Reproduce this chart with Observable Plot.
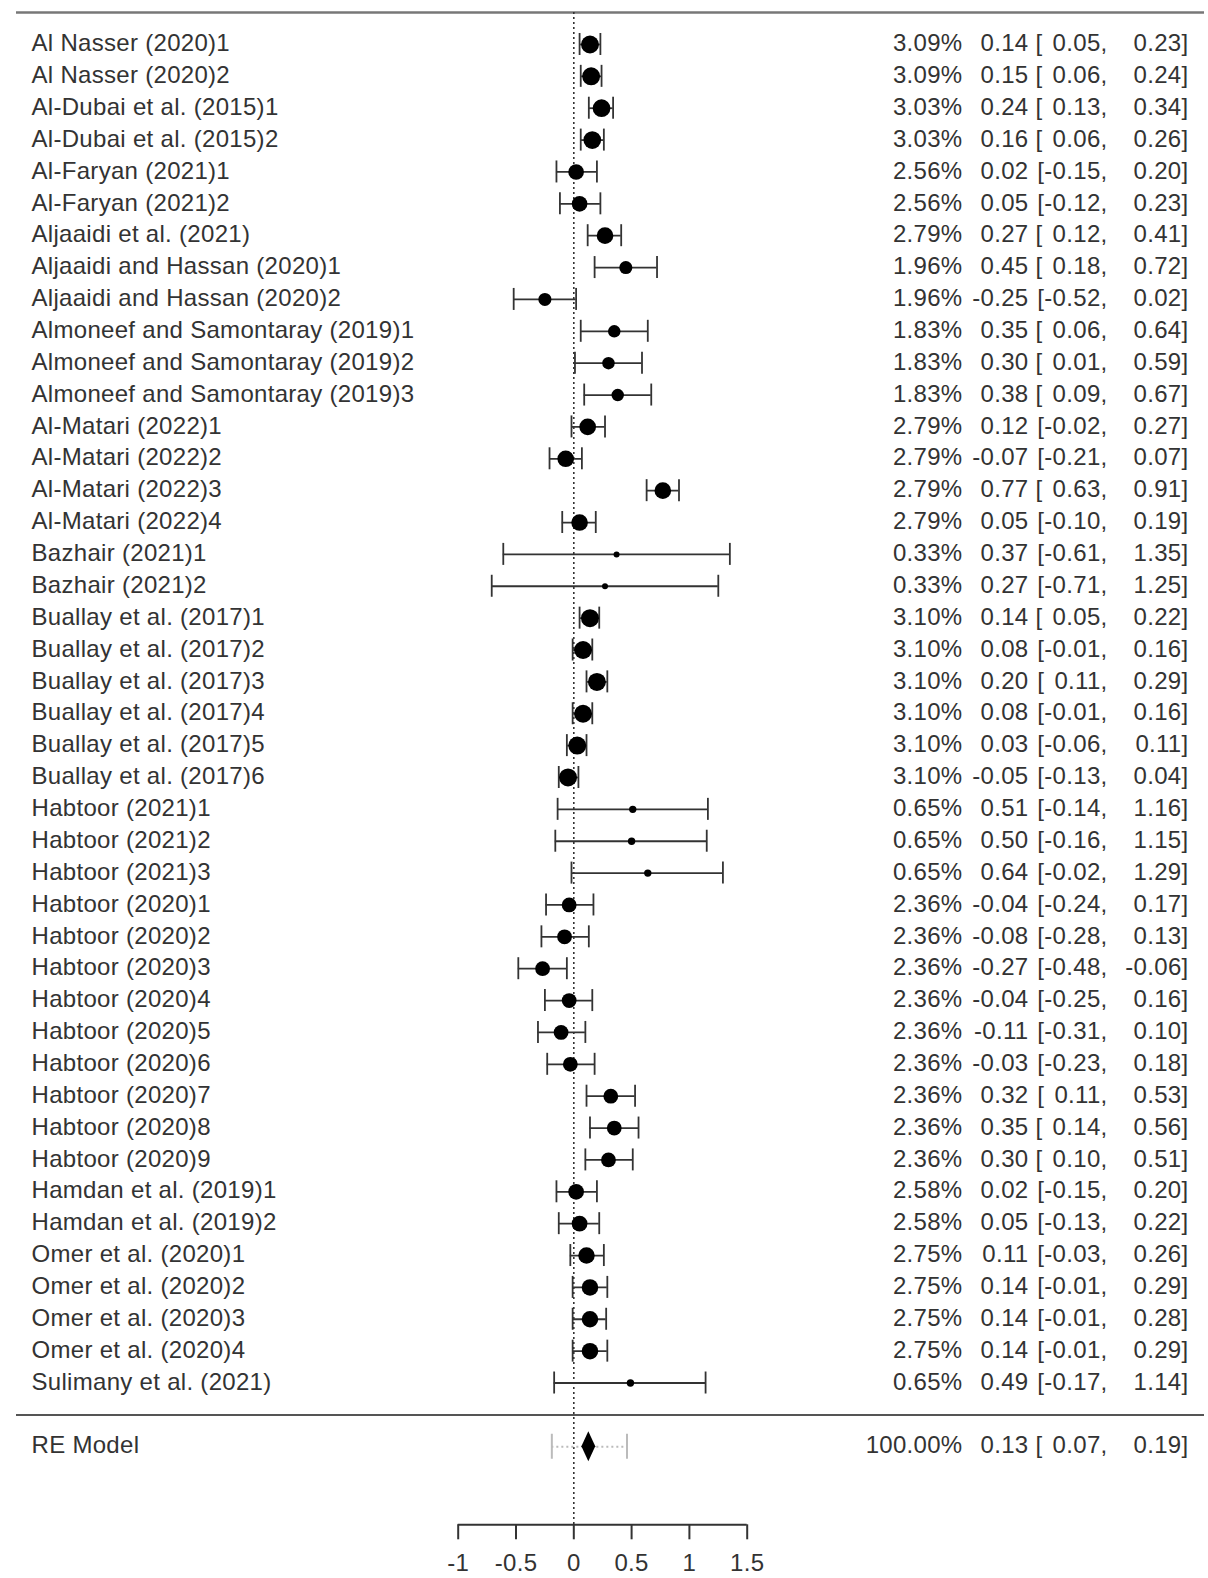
<!DOCTYPE html>
<html><head><meta charset="utf-8">
<script src="https://cdn.jsdelivr.net/npm/d3@7"></script>
<script src="https://cdn.jsdelivr.net/npm/@observablehq/plot@0.6"></script>
<style>html,body{margin:0;padding:0;background:#fff;}</style>
</head><body><div id="chart"></div>
<script>
const studies = [
  "Al Nasser (2020)1","Al Nasser (2020)2","Al-Dubai et al. (2015)1","Al-Dubai et al. (2015)2",
  "Al-Faryan (2021)1","Al-Faryan (2021)2","Aljaaidi et al. (2021)","Aljaaidi and Hassan (2020)1",
  "Aljaaidi and Hassan (2020)2","Almoneef and Samontaray (2019)1","Almoneef and Samontaray (2019)2",
  "Almoneef and Samontaray (2019)3","Al-Matari (2022)1","Al-Matari (2022)2","Al-Matari (2022)3",
  "Al-Matari (2022)4","Bazhair (2021)1","Bazhair (2021)2","Buallay et al. (2017)1","Buallay et al. (2017)2",
  "Buallay et al. (2017)3","Buallay et al. (2017)4","Buallay et al. (2017)5","Buallay et al. (2017)6",
  "Habtoor (2021)1","Habtoor (2021)2","Habtoor (2021)3","Habtoor (2020)1","Habtoor (2020)2",
  "Habtoor (2020)3","Habtoor (2020)4","Habtoor (2020)5","Habtoor (2020)6","Habtoor (2020)7",
  "Habtoor (2020)8","Habtoor (2020)9","Hamdan et al. (2019)1","Hamdan et al. (2019)2",
  "Omer et al. (2020)1","Omer et al. (2020)2","Omer et al. (2020)3","Omer et al. (2020)4",
  "Sulimany et al. (2021)"
];
const weights = [3.09,3.09,3.03,3.03,2.56,2.56,2.79,1.96,1.96,1.83,1.83,1.83,2.79,2.79,2.79,2.79,
  0.33,0.33,3.10,3.10,3.10,3.10,3.10,3.10,0.65,0.65,0.65,2.36,2.36,2.36,2.36,2.36,2.36,2.36,2.36,2.36,
  2.58,2.58,2.75,2.75,2.75,2.75,0.65];
const estimates = [0.14,0.15,0.24,0.16,0.02,0.05,0.27,0.45,-0.25,0.35,0.30,0.38,0.12,-0.07,0.77,0.05,
  0.37,0.27,0.14,0.08,0.20,0.08,0.03,-0.05,0.51,0.50,0.64,-0.04,-0.08,-0.27,-0.04,-0.11,-0.03,0.32,
  0.35,0.30,0.02,0.05,0.11,0.14,0.14,0.14,0.49];
const lowers = [0.05,0.06,0.13,0.06,-0.15,-0.12,0.12,0.18,-0.52,0.06,0.01,0.09,-0.02,-0.21,0.63,-0.10,
  -0.61,-0.71,0.05,-0.01,0.11,-0.01,-0.06,-0.13,-0.14,-0.16,-0.02,-0.24,-0.28,-0.48,-0.25,-0.31,-0.23,
  0.11,0.14,0.10,-0.15,-0.13,-0.03,-0.01,-0.01,-0.01,-0.17];
const uppers = [0.23,0.24,0.34,0.26,0.20,0.23,0.41,0.72,0.02,0.64,0.59,0.67,0.27,0.07,0.91,0.19,
  1.35,1.25,0.22,0.16,0.29,0.16,0.11,0.04,1.16,1.15,1.29,0.17,0.13,-0.06,0.16,0.10,0.18,0.53,0.56,0.51,
  0.20,0.22,0.26,0.29,0.28,0.29,1.14];

const reLabel = "RE Model";
const reWeight = 100;
const reEst = 0.13, reLo = 0.07, reHi = 0.19;
const piLo = -0.19, piHi = 0.46;
const xTicks = [-1, -0.5, 0, 0.5, 1, 1.5];

const k = studies.length;
const rows = studies.map((s, i) => ({study: s, w: weights[i], est: estimates[i], lo: lowers[i], hi: uppers[i], row: k - i}));
const re = {study: reLabel, w: reWeight, est: reEst, lo: reLo, hi: reHi, row: -1, piLo, piHi};
const allRows = [...rows, re];
const diamondHalf = 0.47;
const diamond = [
  {x: re.lo, y1: re.row, y2: re.row},
  {x: re.est, y1: re.row - diamondHalf, y2: re.row + diamondHalf},
  {x: re.hi, y1: re.row, y2: re.row}
];
const fmt = v => v.toFixed(2);

const W = 1208, H = 1578;
const yTop = 44.38, yBottom = -3.449;
const ink = "#333";
const txt = {y: "row", fill: ink, dy: -1};

const plot = Plot.plot({
  width: W, height: H,
  marginLeft: 0, marginRight: 0, marginTop: 0, marginBottom: 53.7,
  style: {fontFamily: "'Liberation Sans', Arial, sans-serif", fontSize: "24px", letterSpacing: "0.3px", background: "#fff", color: ink},
  x: {domain: [-1, 1.5], range: [457.7, 746.7]},
  y: {domain: [yBottom, yTop], axis: null},
  r: {type: "linear", domain: [d3.min(weights), d3.max(weights)], range: [3, 9]},
  marks: [
    Plot.ruleY([k + 1], {insetLeft: 16, insetRight: 4, stroke: "#777", strokeWidth: 2.5}),
    Plot.ruleY([0], {insetLeft: 16, insetRight: 4, stroke: "#555", strokeWidth: 2}),
    Plot.ruleX([0], {y1: k + 1, y2: yBottom, stroke: "#333", strokeWidth: 1.6, strokeDasharray: "2,3"}),
    Plot.ruleY([yBottom], {x1: d3.min(xTicks), x2: d3.max(xTicks), stroke: "#333", strokeWidth: 2}),
    Plot.axisX({ticks: xTicks, tickFormat: d => String(d), tickSize: 15, tickPadding: 14, fontSize: 24, color: "#333", strokeWidth: 2, label: null}),
    // prediction interval
    Plot.ruleY([re], {y: "row", x1: "piLo", x2: "piHi", stroke: "#bbb", strokeWidth: 2, strokeDasharray: "2,3"}),
    Plot.ruleX([re], {x: "piLo", y1: "row", y2: "row", insetTop: -12.5, insetBottom: -12.5, stroke: "#bbb", strokeWidth: 2}),
    Plot.ruleX([re], {x: "piHi", y1: "row", y2: "row", insetTop: -12.5, insetBottom: -12.5, stroke: "#bbb", strokeWidth: 2}),
    // study CIs
    Plot.ruleY(rows, {y: "row", x1: "lo", x2: "hi", stroke: "#333", strokeWidth: 1.8}),
    Plot.ruleX(rows, {x: "lo", y1: "row", y2: "row", insetTop: -11, insetBottom: -11, stroke: "#333", strokeWidth: 1.8}),
    Plot.ruleX(rows, {x: "hi", y1: "row", y2: "row", insetTop: -11, insetBottom: -11, stroke: "#333", strokeWidth: 1.8}),
    Plot.dot(rows, {x: "est", y: "row", r: "w", fill: "#000"}),
    Plot.areaY(diamond, {x: "x", y1: "y1", y2: "y2", fill: "#000"}),
    // text columns
    Plot.text(allRows, {...txt, text: "study", frameAnchor: "left", textAnchor: "start", dx: 31}),
    Plot.text(allRows, {...txt, text: d => d.w.toFixed(2) + "%", frameAnchor: "right", textAnchor: "end", dx: -246}),
    Plot.text(allRows, {...txt, text: d => fmt(d.est), frameAnchor: "right", textAnchor: "end", dx: -180}),
    Plot.text(allRows, {...txt, text: d => "[" + (d.lo < 0 ? "" : "\u2009\u2009") + fmt(d.lo) + ",", frameAnchor: "right", textAnchor: "end", dx: -101}),
    Plot.text(allRows, {...txt, text: d => fmt(d.hi) + "]", frameAnchor: "right", textAnchor: "end", dx: -20})
  ]
});
document.getElementById("chart").appendChild(plot);
</script>
</body></html>
